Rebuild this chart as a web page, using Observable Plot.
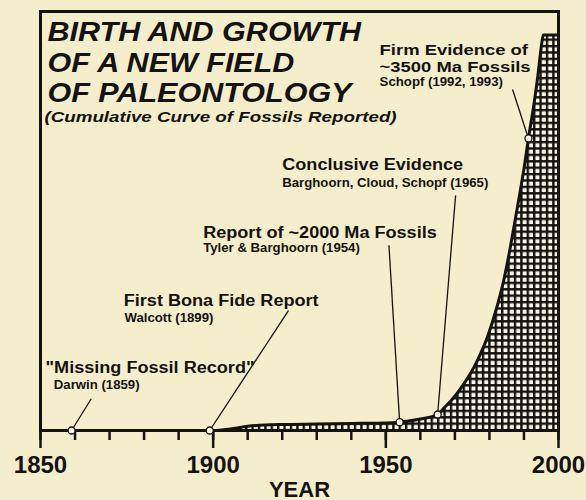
<!DOCTYPE html>
<html>
<head>
<meta charset="utf-8">
<script src="https://cdn.jsdelivr.net/npm/d3@7"></script>
<script src="https://cdn.jsdelivr.net/npm/@observablehq/plot@0.6"></script>
<style>
  html, body { margin: 0; padding: 0; background: #f5eecc; }
  svg { display: block; }
</style>
</head>
<body>
<script>
// ---------- data ----------
// cumulative curve of fossils reported (relative units, 100 = top of the frame)
const curveYears  = [1850, 1900, 1905, 1910, 1915, 1920, 1930, 1940, 1950, 1954, 1960, 1965, 1967, 1969, 1972.5, 1976.5, 1979.5, 1982, 1984, 1986, 1987.5, 1989, 1990, 1991.3, 1993, 1994, 1995, 1995.6, 2000];
const curveValues = [0,    0,    0.36, 1.0,  1.3,  1.43, 1.55, 1.67, 1.79, 1.98, 2.74, 3.82, 5.5,  7.2,  11.0,   16.7,   22.5,   29.0, 35.3, 43.5, 50.5,   57.5, 62.5, 69.7,   78.5, 84.5, 91.5, 94.4,   94.4];

// milestones
const eventYears  = [1859, 1899, 1954, 1965, 1991.3];
const eventValues = [0, 0, 1.98, 3.82, 69.7];
const eventTitles = [
  ["\"Missing Fossil Record\""],
  ["First Bona Fide Report"],
  ["Report of ~2000 Ma Fossils"],
  ["Conclusive Evidence"],
  ["Firm Evidence of", "~3500 Ma Fossils"]
];
const eventCitations = ["Darwin (1859)", "Walcott (1899)", "Tyler & Barghoorn (1954)", "Barghoorn, Cloud, Schopf (1965)", "Schopf (1992, 1993)"];

// axis
const majorTicks = [1850, 1900, 1950, 2000];
const minorTicks = d3.range(1850, 2001, 10);
const xLabel = "YEAR";

// title
const titleLines = ["BIRTH AND GROWTH", "OF A NEW FIELD", "OF PALEONTOLOGY"];
const subtitle = "(Cumulative Curve of Fossils Reported)";

// ---------- layout (annotation placement in chart units) ----------
const titleAnchors = [[1851.45, 13.72], [1874.1, 29.83], [1897.1, 46.06], [1920.0, 62.17], [1948.2, 89.614]];
const citeAnchors  = [[1853.85, 9.79], [1874.3, 26.0], [1897.1, 42.6], [1920.0, 58.23], [1948.2, 82.22]];
const leaderEnds   = [[1864.7, 7.57], [1921.8, 28.6], [1950.9, 44.2], [1970.2, 56.1], [1986.7, 81.4]];
const lineStep = 3.94; // chart units between two label lines

// ---------- build ----------
const ink = "#15130f";
const bg = "#f5eecc";
const font = "'Liberation Sans', Arial, Helvetica, sans-serif";

const curve = curveYears.map((year, i) => ({year, value: curveValues[i]}));
const events = eventYears.map((year, i) => ({
  year, value: eventValues[i], x2: leaderEnds[i][0], y2: leaderEnds[i][1]
}));
const labelRows = eventTitles.flatMap((lines, i) =>
  lines.map((text, j) => ({text, x: titleAnchors[i][0], y: titleAnchors[i][1] - j * lineStep, multi: lines.length > 1})));
const citeRows = eventCitations.map((text, i) => ({text, x: citeAnchors[i][0], y: citeAnchors[i][1]}));

const defs = () => {
  const ns = "http://www.w3.org/2000/svg";
  const d = document.createElementNS(ns, "defs");
  d.innerHTML = `<pattern id="grid" patternUnits="userSpaceOnUse" x="1.8" y="0.1" width="6.4" height="6.4">
      <rect width="6.4" height="6.4" fill="#fbf8e8"/>
      <rect width="2.4" height="6.4" fill="${ink}"/>
      <rect width="6.4" height="2.4" fill="${ink}"/>
    </pattern>`;
  return d;
};

const titleBaselines = [29, 60.5, 90];

const chart = Plot.plot({
  width: 586,
  height: 500,
  marginLeft: 40,
  marginRight: 28,
  marginTop: 11,
  marginBottom: 70,
  x: {domain: [1850, 2000]},
  y: {domain: [0, 100], axis: null},
  style: {background: bg, fontFamily: font, color: ink},
  marks: [
    defs,
    Plot.areaY(curve, {x: "year", y: "value", fill: "url(#grid)", curve: "monotone-x"}),
    Plot.line(curve, {x: "year", y: "value", stroke: ink, strokeWidth: 3, curve: "monotone-x"}),
    Plot.frame({stroke: ink, strokeWidth: 3}),
    Plot.axisX({ticks: minorTicks, tickSize: 10, tickFormat: () => "", strokeWidth: 2.5, label: null}),
    Plot.axisX({ticks: majorTicks, tickSize: 18, tickPadding: 7, tickFormat: d => String(d),
      fontSize: 24, fontWeight: "bold", strokeWidth: 2.5, label: null, fill: ink}),
    Plot.text([xLabel], {frameAnchor: "bottom", dy: 66, lineAnchor: "bottom", fontSize: 22,
      fontWeight: "bold", fill: ink}),
    Plot.link(events, {x1: "year", y1: "value", x2: "x2", y2: "y2", stroke: ink, strokeWidth: 1.3}),
    Plot.dot(events, {x: "year", y: "value", r: 3.5, fill: "#fbf8e8", stroke: ink, strokeWidth: 1.3}),
    ...titleLines.map((t, i) => Plot.text([t], {frameAnchor: "top-left", dx: 7, dy: titleBaselines[i],
      lineAnchor: "bottom", textAnchor: "start", fontSize: 27, fontWeight: "bold", fontStyle: "italic",
      fill: ink, ariaDescription: "title"})),
    Plot.text([subtitle], {frameAnchor: "top-left", dx: 4, dy: 110, lineAnchor: "bottom", textAnchor: "start",
      fontSize: 15, fontWeight: "bold", fontStyle: "italic", fill: ink, ariaDescription: "subtitle"}),
    Plot.text(labelRows.filter(d => !d.multi), {x: "x", y: "y", text: "text", textAnchor: "start", lineAnchor: "bottom",
      fontSize: 16, fontWeight: "bold", fill: ink, ariaDescription: "label"}),
    Plot.text(labelRows.filter(d => d.multi), {x: "x", y: "y", text: "text", textAnchor: "start", lineAnchor: "bottom",
      fontSize: 14.5, fontWeight: "bold", fill: ink, ariaDescription: "label2"}),
    Plot.text(citeRows, {x: "x", y: "y", text: "text", textAnchor: "start", lineAnchor: "bottom",
      fontSize: 12, fontWeight: "bold", fill: ink, ariaDescription: "cite"})
  ]
});

document.body.append(chart);

// horizontal stretch of the lettering, as in the scanned original
const stretch = {title: 1.13, subtitle: 1.25, label: 1.13, label2: 1.27, cite: 1.1};
for (const [name, k] of Object.entries(stretch)) {
  chart.querySelectorAll(`g[aria-description="${name}"] text`).forEach(t => {
    const w = t.getComputedTextLength();
    t.setAttribute("textLength", (w * k).toFixed(1));
    t.setAttribute("lengthAdjust", "spacingAndGlyphs");
  });
}
</script>
</body>
</html>
